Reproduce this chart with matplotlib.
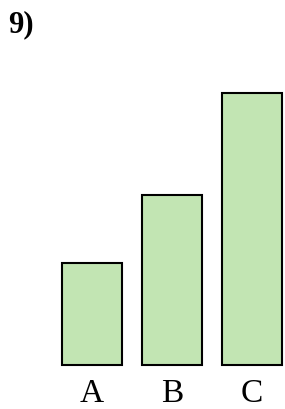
import matplotlib
matplotlib.use('Agg')
import matplotlib.pyplot as plt

# ==============================================================================
# Data
#
categories = ['A', 'B', 'C']
values = [3, 5, 8]

BAR_COLOR = '#c2e5b3'
EDGE_COLOR = 'black'
FONT = 'Liberation Serif'

# ==============================================================================
# Plot
#
W, H = 285, 409
fig = plt.figure(figsize=(W/100, H/100), dpi=100)
ax = fig.add_axes([0, 0, 1, 1])

x = list(range(len(categories)))
ax.bar(x, values, width=0.75, color=BAR_COLOR, edgecolor=EDGE_COLOR, linewidth=1.5)

# map data units to pixel layout of the reference
px_per_x = 80.0
px_per_y = 34.0
ax.set_xlim(-92/px_per_x, (W-92)/px_per_x)
ax.set_ylim(-44/px_per_y, (H-44)/px_per_y)
ax.axis('off')

# labels sit just above the bottom edge (keep descent inside the figure)
for i, name in zip(x, categories):
    ax.text(i, -36.5/px_per_y, name, ha='center', va='baseline',
            fontsize=24, family=FONT)

fig.text(8/W, 1-32.5/H, '9)', ha='left', va='baseline',
         fontsize=22, fontweight='bold', family=FONT)

fig.savefig('out.png', dpi=100)
